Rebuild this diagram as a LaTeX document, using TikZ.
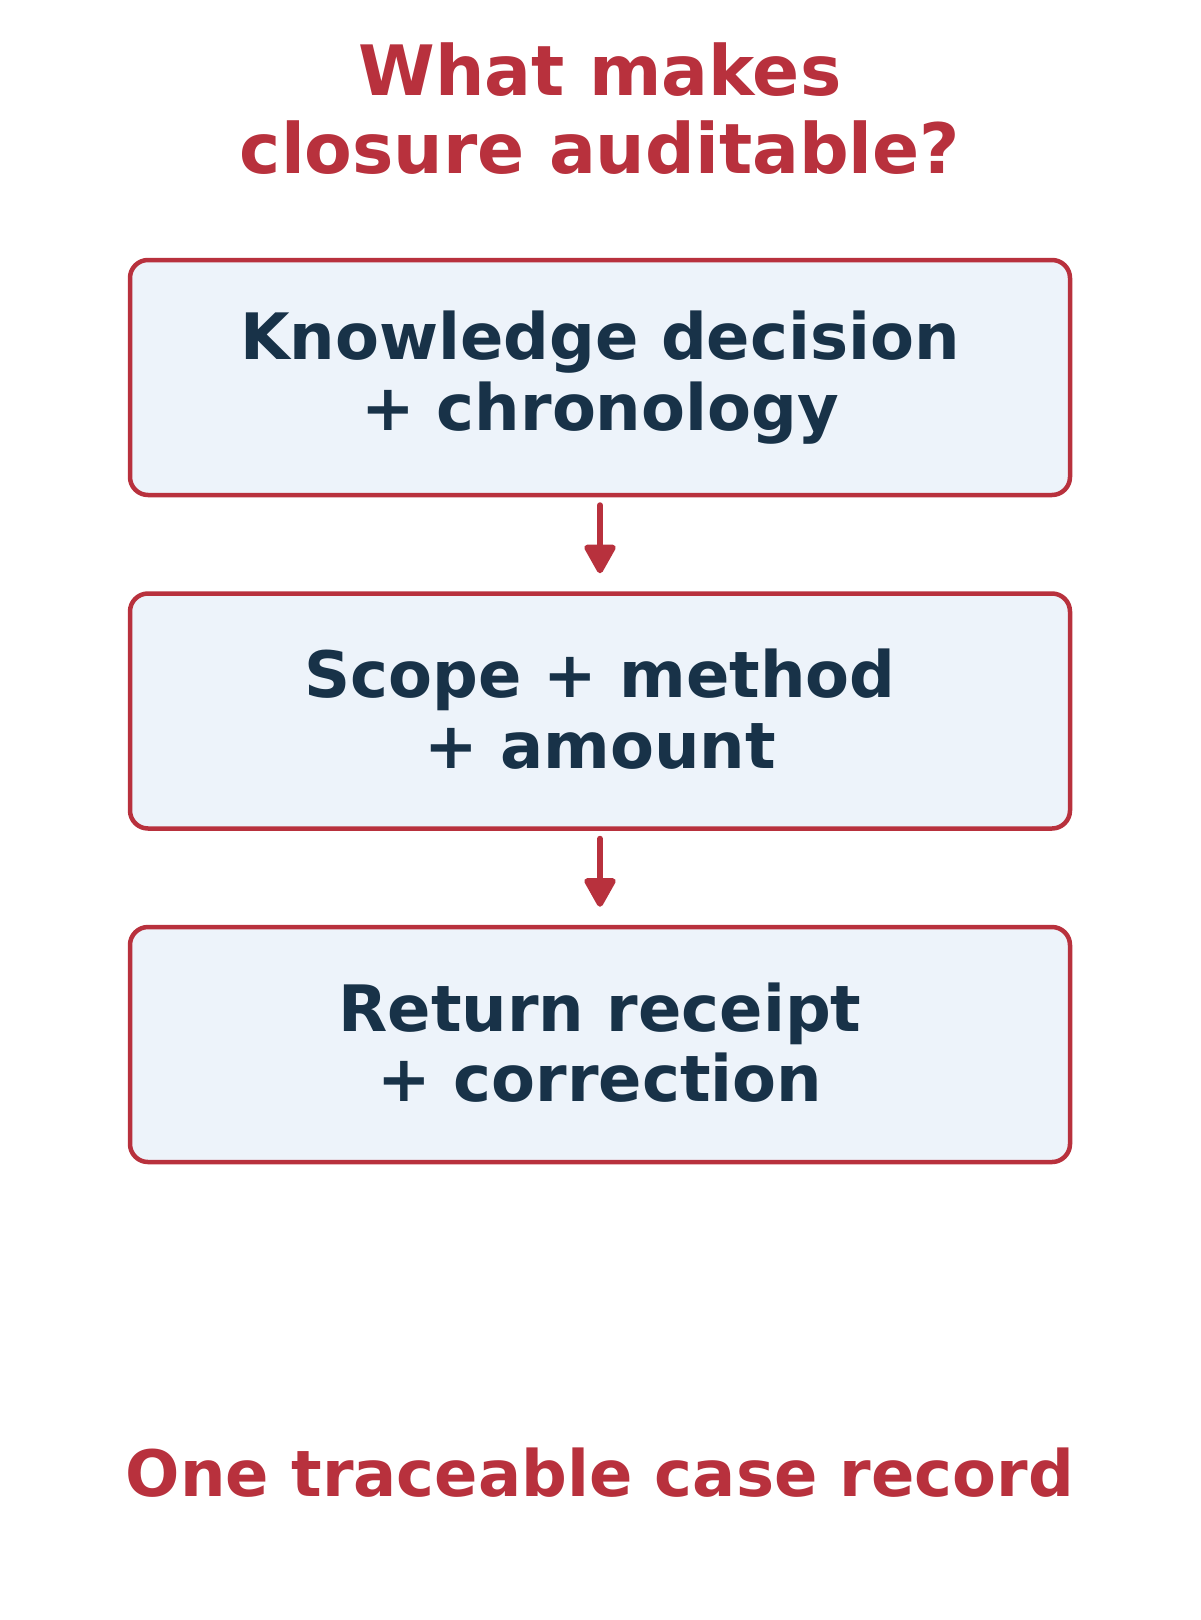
\documentclass[tikz,border=0pt]{standalone}
\usepackage{fontspec}
\setmainfont{DejaVu Sans}
\usetikzlibrary{positioning,arrows.meta}

\definecolor{accentred}{RGB}{184,49,61}
\definecolor{inknavy}{RGB}{24,50,72}
\definecolor{paleblue}{RGB}{237,243,250}

\newcommand{\topstrut}{\rule{0pt}{48pt}}
\newcommand{\botstrut}{\rule[-5pt]{0pt}{5pt}}

\tikzset{
	stagebox/.style={draw=accentred, fill=paleblue, line width=4.5pt, rounded corners=18pt,
		minimum width=940pt, minimum height=235pt, align=center, text=inknavy,
		font=\fontsize{64}{70.4}\selectfont\bfseries,
		execute at begin node=\topstrut, execute at end node=\botstrut},
	flowarrow/.style={draw=accentred, line width=6pt, line cap=round,
		-{Triangle[length=32pt,width=34pt,round]}, shorten <=8pt, shorten >=18pt},
	headline/.style={text=accentred, align=center, inner sep=0pt,
		font=\fontsize{69.5}{78}\selectfont\bfseries}
}

\begin{document}
\begin{tikzpicture}[node distance=94pt]
		\useasboundingbox (0,0) rectangle (1200pt,-1620pt);
		
		\node[headline] (question) at (600pt,-108.5pt) {What makes\\closure auditable?};
		
		\node[stagebox] (decision) at (600pt,-377.5pt) {Knowledge decision\\+ chronology};
		\node[stagebox, below=of decision] (scope) {Scope + method\\+ amount};
		\node[stagebox, below=of scope] (receipt) {Return receipt\\+ correction};
		
		\node[headline, anchor=base, font=\fontsize{64}{70.4}\selectfont\bfseries] (record) at (600pt,-1496pt) {One traceable case record};
		
		\draw[flowarrow] (decision) -- (scope);
		\draw[flowarrow] (scope) -- (receipt);
	\end{tikzpicture}
\end{document}
